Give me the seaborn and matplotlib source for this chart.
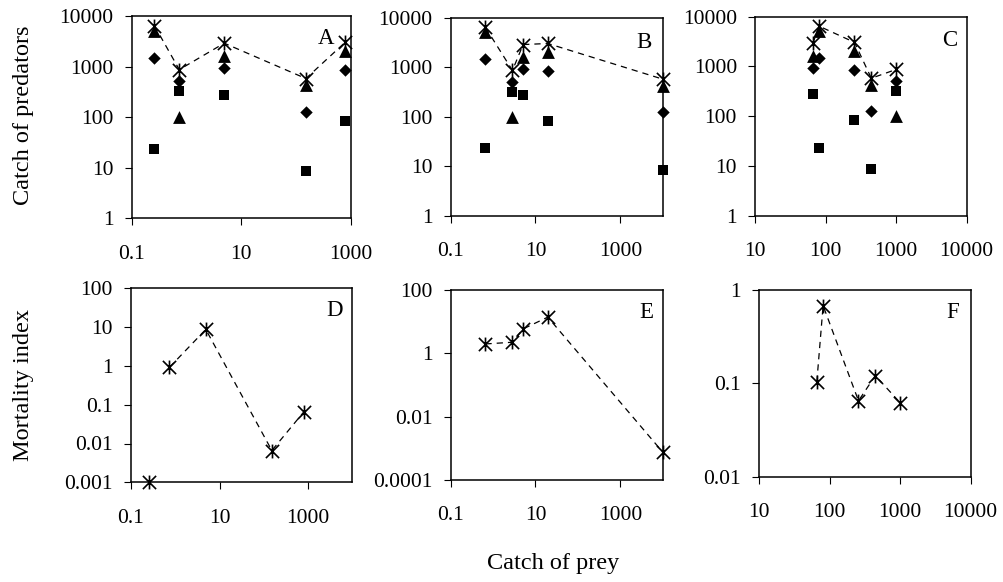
import numpy as np
import pandas as pd
import matplotlib
matplotlib.use("Agg")
import matplotlib.pyplot as plt
from matplotlib.path import Path
from matplotlib.ticker import FixedLocator, FixedFormatter, NullLocator
import seaborn as sns

sns.set_theme(style="white")
plt.rcParams['font.family'] = ['Liberation Serif', 'DejaVu Serif']

# ---- data (five sites) ----
sites = ["s1", "s2", "s3", "s4", "s5"]
prey_A = [0.26, 0.74, 4.9, 152, 800]
prey_B = [0.66, 2.86, 5.1, 10000, 19.5]
prey_C = [81, 1000, 66, 445, 257]

pred_total = [6450, 870, 2900, 580, 3050]
pred_triangle = [5100, 100, 1600, 430, 2050]
pred_diamond = [1450, 510, 950, 128, 845]
pred_square = [23, 325, 280, 8.6, 84]

mort_D = [0.001, 0.92, 8.7, 0.0066, 0.065]
mort_E = [1.98, 2.24, 5.9, 0.00076, 13.9]
mort_F = [0.68, 0.062, 0.104, 0.121, 0.065]
# in panel D the first (floor) point is not joined by the dashed line
line_D_included = [False, True, True, True, True]

panel_letters = ["A", "B", "C", "D", "E", "F"]

x_ticks_AB = [0.1, 10, 1000]
x_ticklabels_AB = ["0.1", "10", "1000"]
x_ticks_C = [10, 100, 1000, 10000]
x_ticklabels_C = ["10", "100", "1000", "10000"]
y_ticks_top = [1, 10, 100, 1000, 10000]
y_ticklabels_top = ["1", "10", "100", "1000", "10000"]
y_ticks_D = [0.001, 0.01, 0.1, 1, 10, 100]
y_ticklabels_D = ["0.001", "0.01", "0.1", "1", "10", "100"]
y_ticks_E = [0.0001, 0.01, 1, 100]
y_ticklabels_E = ["0.0001", "0.01", "1", "100"]
y_ticks_F = [0.01, 0.1, 1]
y_ticklabels_F = ["0.01", "0.1", "1"]

# ---- figure ----
W, H = 1004, 582
fig = plt.figure(figsize=(W / 100, H / 100), dpi=100)

def px_axes(l, t, r, b):
    return fig.add_axes([l / W, 1 - b / H, (r - l) / W, (b - t) / H])

star = Path([(-1, -1), (1, 1), (-1, 1), (1, -1), (0, -1.05), (0, 1.05)],
            [Path.MOVETO, Path.LINETO, Path.MOVETO, Path.LINETO, Path.MOVETO, Path.LINETO])

FS = 15.5
FS_TITLE = 17.5

def style_axis(ax, xlim, ylim, xt, xtl, yt, ytl):
    ax.set_xscale("log")
    ax.set_yscale("log")
    ax.set_xlim(*xlim)
    ax.set_ylim(*ylim)
    ax.xaxis.set_major_locator(FixedLocator(xt))
    ax.xaxis.set_major_formatter(FixedFormatter(xtl))
    ax.yaxis.set_major_locator(FixedLocator(yt))
    ax.yaxis.set_major_formatter(FixedFormatter(ytl))
    ax.xaxis.set_minor_locator(NullLocator())
    ax.yaxis.set_minor_locator(NullLocator())
    ax.tick_params(axis="both", which="major", direction="out", length=5, width=0.8,
                   color="black", labelsize=FS, labelcolor="black", bottom=True, left=True)
    ax.tick_params(axis="x", pad=14)
    ax.tick_params(axis="y", pad=8)
    for s in ax.spines.values():
        s.set_visible(True)
        s.set_color("black")
        s.set_linewidth(1.1)
    ax.set_xlabel("")
    ax.set_ylabel("")
    ax.grid(False)

def draw_top(ax, prey):
    df = pd.DataFrame({"prey": prey, "total": pred_total, "tri": pred_triangle,
                       "dia": pred_diamond, "sq": pred_square})
    sns.lineplot(data=df, x="prey", y="total", ax=ax, color="black", linewidth=0.9,
                 linestyle=(0, (5, 4)), estimator=None, sort=True, zorder=2)
    sns.scatterplot(data=df, x="prey", y="sq", ax=ax, marker="s", s=62, color="black",
                    edgecolor="black", linewidth=0, zorder=3, clip_on=False)
    sns.scatterplot(data=df, x="prey", y="dia", ax=ax, marker="D", s=40, color="black",
                    edgecolor="black", linewidth=0, zorder=3, clip_on=False)
    sns.scatterplot(data=df, x="prey", y="tri", ax=ax, marker="^", s=85, color="black",
                    edgecolor="black", linewidth=0, zorder=3, clip_on=False)
    sns.scatterplot(data=df, x="prey", y="total", ax=ax, marker=star, s=100, color="black",
                    edgecolor="black", linewidth=1.2, zorder=4, clip_on=False)

def draw_bottom(ax, prey, mort, include=None):
    df = pd.DataFrame({"prey": prey, "mort": mort})
    dline = df if include is None else df[include]
    sns.lineplot(data=dline, x="prey", y="mort", ax=ax, color="black", linewidth=0.9,
                 linestyle=(0, (5, 4)), estimator=None, sort=True, zorder=2)
    sns.scatterplot(data=df, x="prey", y="mort", ax=ax, marker=star, s=100, color="black",
                    edgecolor="black", linewidth=1.2, zorder=4, clip_on=False)

axA = px_axes(131.7, 16, 350.7, 218.3)
axB = px_axes(450.7, 18, 662.7, 215.7)
axC = px_axes(755, 16.7, 966.7, 215.7)
axD = px_axes(131, 288.3, 352.3, 482.3)
axE = px_axes(450.7, 290, 662.7, 480)
axF = px_axes(759, 290, 970.7, 476.7)

draw_top(axA, prey_A)
draw_top(axB, prey_B)
draw_top(axC, prey_C)
draw_bottom(axD, prey_A, mort_D, line_D_included)
draw_bottom(axE, prey_B, mort_E)
draw_bottom(axF, prey_C, mort_F)

style_axis(axA, (0.1, 1000), (1, 10000), x_ticks_AB, x_ticklabels_AB, y_ticks_top, y_ticklabels_top)
style_axis(axB, (0.1, 10000), (1, 10000), x_ticks_AB, x_ticklabels_AB, y_ticks_top, y_ticklabels_top)
style_axis(axC, (10, 10000), (1, 10000), x_ticks_C, x_ticklabels_C, y_ticks_top, y_ticklabels_top)
style_axis(axD, (0.1, 10000), (0.001, 100), x_ticks_AB, x_ticklabels_AB, y_ticks_D, y_ticklabels_D)
style_axis(axE, (0.1, 10000), (0.0001, 100), x_ticks_AB, x_ticklabels_AB, y_ticks_E, y_ticklabels_E)
style_axis(axF, (10, 10000), (0.01, 1), x_ticks_C, x_ticklabels_C, y_ticks_F, y_ticklabels_F)

letter_pos = [(326, 38), (644, 43), (950, 40), (335, 311), (646, 313), (953, 312)]
for (lx, ly), letter in zip(letter_pos, panel_letters):
    fig.text(lx / W, 1 - ly / H, letter, fontsize=FS + 1, ha="center", va="center", color="black")

fig.text(24 / W, 1 - 115 / H, "Catch of predators", rotation=90, fontsize=FS_TITLE,
         ha="center", va="center", color="black")
fig.text(24 / W, 1 - 385 / H, "Mortality index", rotation=90, fontsize=FS_TITLE,
         ha="center", va="center", color="black")
fig.text(553 / W, 1 - 563 / H, "Catch of prey", fontsize=FS_TITLE,
         ha="center", va="center", color="black")

fig.savefig("out.png", dpi=100, facecolor="white")
